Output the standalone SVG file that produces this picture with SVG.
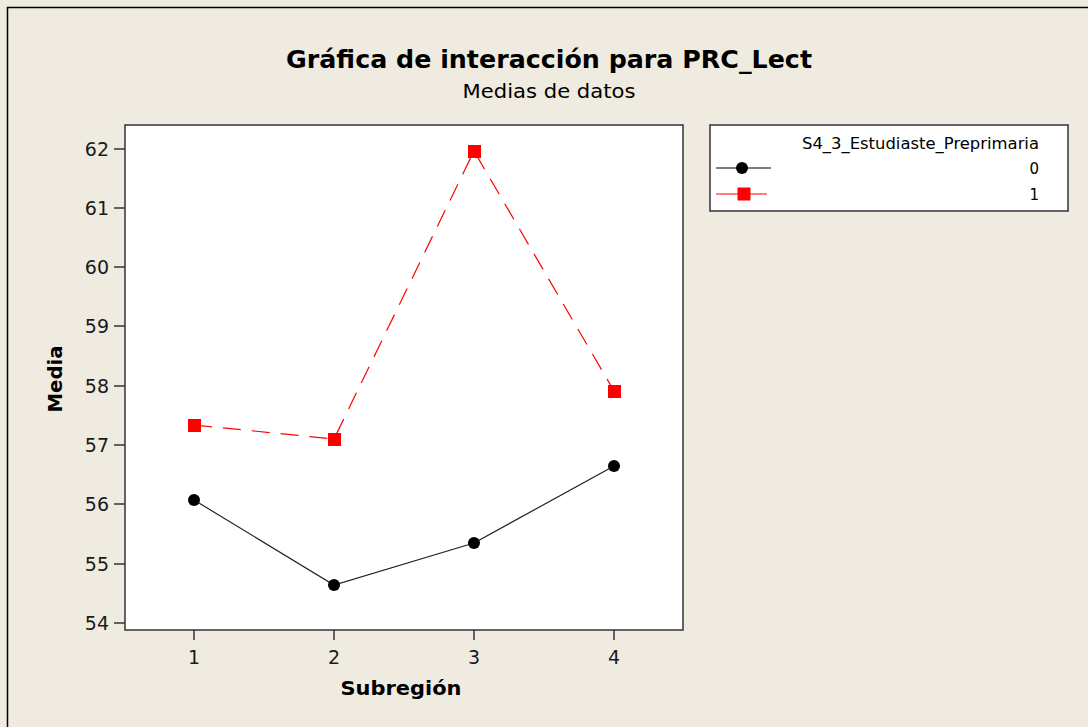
<svg xmlns="http://www.w3.org/2000/svg" width="1088" height="727" viewBox="0 0 1088 727">
<style>
.t{font-family:"DejaVu Sans","Liberation Sans",sans-serif;fill:#000}
.tick{font-family:"DejaVu Sans","Liberation Sans",sans-serif;font-size:19px;fill:#1a1a1a}
.ax{stroke:#333;stroke-width:1.5;fill:none}
.frame{stroke:#333;stroke-width:1.5;fill:#FFFFFF}
</style>
<rect x="0" y="0" width="1088" height="727" fill="#EFEBE1"/>
<path d="M7.5 727 V7.5 H1088" stroke="#000" stroke-width="1.5" fill="none"/>
<text class="t" x="549" y="68" font-size="25" font-weight="bold" text-anchor="middle" textLength="526" lengthAdjust="spacingAndGlyphs">Gráfica de interacción para PRC_Lect</text>
<text class="t" x="549" y="98" font-size="19" text-anchor="middle" textLength="173" lengthAdjust="spacingAndGlyphs">Medias de datos</text>
<g id="plot">
<rect x="125" y="125" width="558" height="505" class="frame"/>
<g class="ax">
<path d="M114 149H125M114 208H125M114 267H125M114 326H125M114 386H125M114 445H125M114 504H125M114 564H125M114 623H125"/>
<path d="M194 630V640M334 630V640M474 630V640M614 630V640"/>
</g>
<g class="tick" text-anchor="end">
<text x="109" y="156">62</text>
<text x="109" y="215">61</text>
<text x="109" y="274">60</text>
<text x="109" y="333">59</text>
<text x="109" y="393">58</text>
<text x="109" y="452">57</text>
<text x="109" y="511">56</text>
<text x="109" y="571">55</text>
<text x="109" y="630">54</text>
</g>
<g class="tick" text-anchor="middle">
<text x="194" y="664">1</text>
<text x="334" y="664">2</text>
<text x="474" y="664">3</text>
<text x="614" y="664">4</text>
</g>
<text class="t" x="401" y="695" font-size="19" font-weight="bold" text-anchor="middle" textLength="121" lengthAdjust="spacingAndGlyphs">Subregión</text>
<text class="t" transform="translate(62 379) rotate(-90)" font-size="19" font-weight="bold" text-anchor="middle" textLength="67" lengthAdjust="spacingAndGlyphs">Media</text>
</g>
<g id="connectors">
<polyline points="194,500 334,585 474,543 614,466" fill="none" stroke="#222" stroke-width="1.2"/>
<polyline points="194,425 334,439 474,151 614,391" fill="none" stroke="#FF0000" stroke-width="1.2" stroke-dasharray="18 11"/>
</g>
<g id="series0" fill="#000">
<circle cx="194" cy="500" r="6"/>
<circle cx="334" cy="585" r="6"/>
<circle cx="474" cy="543" r="6"/>
<circle cx="614" cy="466" r="6"/>
</g>
<g id="series1" fill="#FF0000">
<rect x="188" y="419" width="13" height="13"/>
<rect x="328" y="433" width="13" height="13"/>
<rect x="468" y="145" width="13" height="13"/>
<rect x="608" y="385" width="13" height="13"/>
</g>
<g id="legend">
<rect x="710" y="125" width="358" height="86" class="frame"/>
<text class="t" x="1039" y="149" font-size="15" text-anchor="end" textLength="237" lengthAdjust="spacingAndGlyphs">S4_3_Estudiaste_Preprimaria</text>
<line x1="716" y1="168" x2="771" y2="168" stroke="#000" stroke-width="1.2"/>
<circle cx="742" cy="168" r="6" fill="#000"/>
<text class="t" x="1039" y="174" font-size="15" text-anchor="end">0</text>
<line x1="716" y1="194" x2="767" y2="194" stroke="#FF0000" stroke-width="1.2"/>
<rect x="737.5" y="187.5" width="13" height="13" fill="#FF0000"/>
<text class="t" x="1039" y="200" font-size="15" text-anchor="end">1</text>
</g>
</svg>
